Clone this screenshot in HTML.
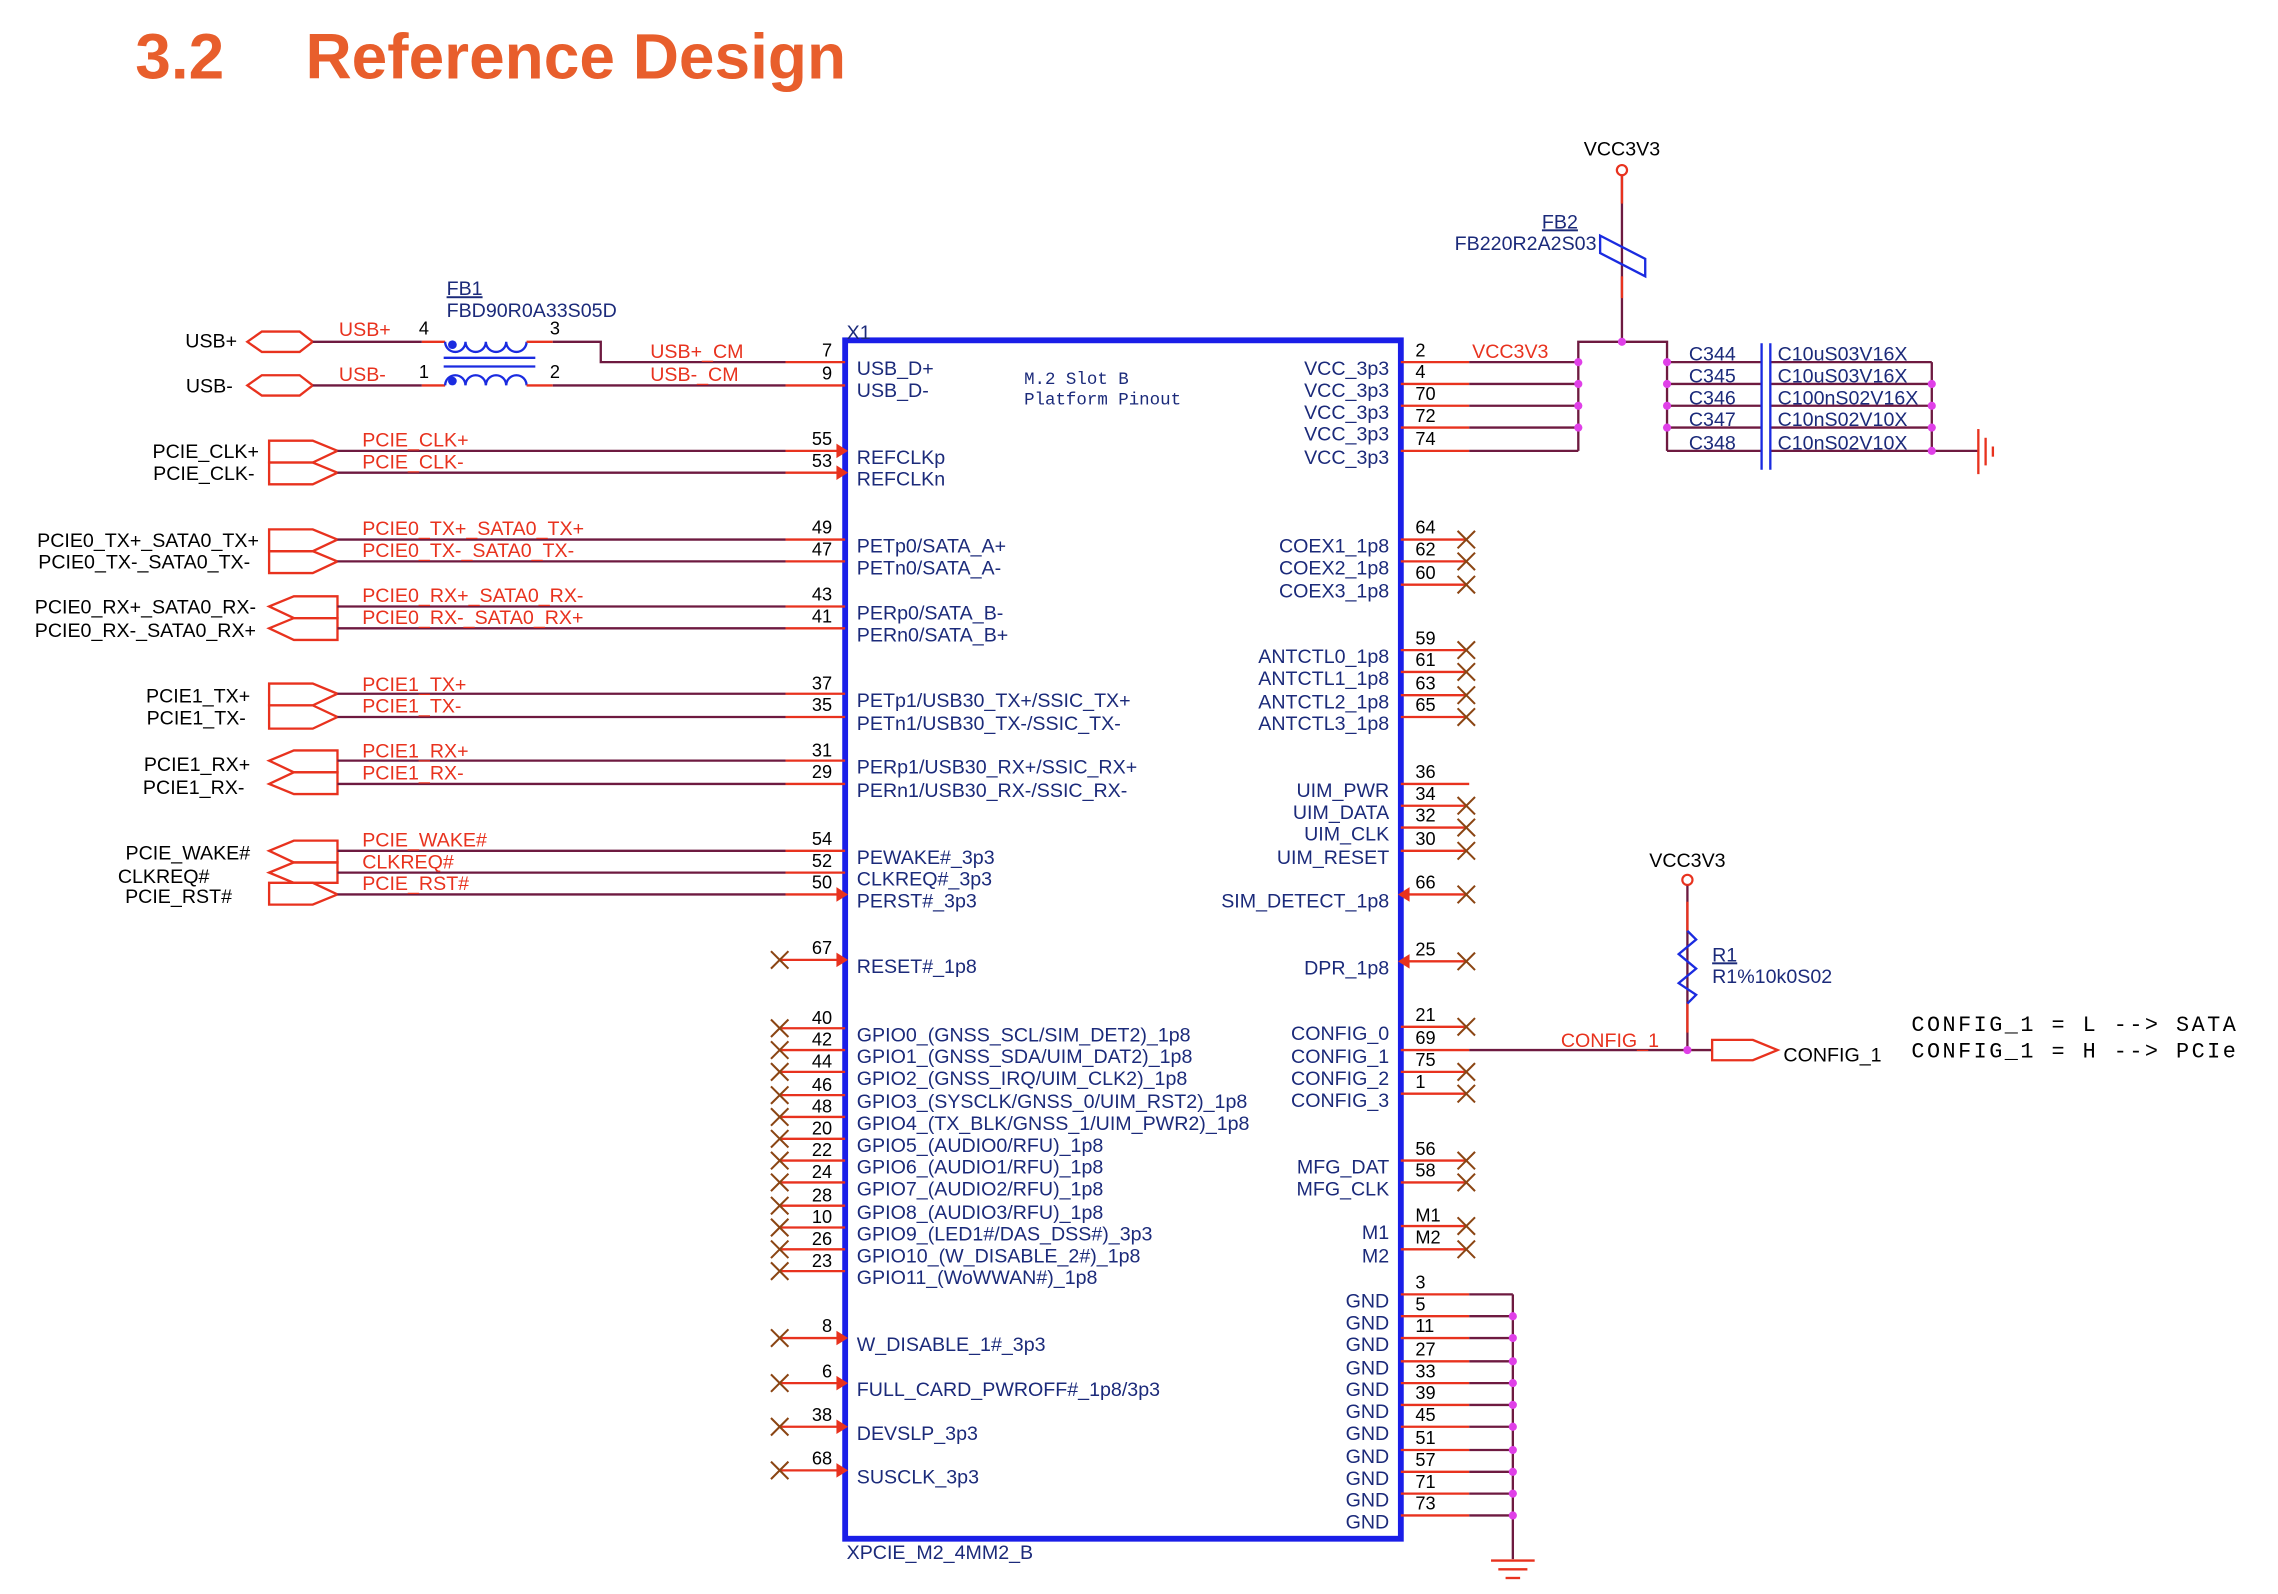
<!DOCTYPE html>
<html><head><meta charset="utf-8"><style>
html,body{margin:0;padding:0;background:#fff;}
svg{display:block;}
text{font-family:"Liberation Sans",sans-serif;}
.p{fill:#1b2a7a;font-size:13.5px;}
.pe{fill:#1b2a7a;font-size:13.5px;text-anchor:end;}
.n{fill:#000;font-size:12.5px;}
.ne{fill:#000;font-size:12.5px;text-anchor:end;}
.r{fill:#e8321e;font-size:13.5px;}
.k{fill:#000;font-size:13.5px;}
.ke{fill:#000;font-size:13.5px;text-anchor:end;}
.m{fill:#1b2a7a;font-size:12px;font-family:"Liberation Mono",monospace;}
.mk{fill:#000;font-size:15px;font-family:"Liberation Mono",monospace;}
.red{stroke:#e8321e;stroke-width:1.6;fill:none;}
.w{stroke:#6e1a40;stroke-width:1.6;fill:none;}
.x{stroke:#8b4513;stroke-width:1.4;fill:none;}
.port{stroke:#e8321e;stroke-width:1.6;fill:none;}
.dot{fill:#e040e8;}
.blue{stroke:#1a2be0;stroke-width:1.6;fill:none;}
</style></head><body>
<svg width="2278" height="1594" viewBox="0 0 1566 1096" preserveAspectRatio="none" xmlns="http://www.w3.org/2000/svg">
<!-- Title -->
<text x="93" y="54" style="font-size:44px;font-weight:bold;fill:#e85e2c;">3.2</text>
<text x="210" y="54" style="font-size:44px;font-weight:bold;fill:#e85e2c;">Reference Design</text>

<!-- Main box -->
<rect x="581" y="234" width="382" height="824" fill="none" stroke="#1a1ee8" stroke-width="4"/>
<text x="582" y="233" class="p">X1</text>
<text x="582" y="1072" class="p">XPCIE_M2_4MM2_B</text>
<text x="704" y="264" class="m">M.2 Slot B</text>
<text x="704" y="278" class="m">Platform Pinout</text>

<!-- USB ports & FB1 -->
<polygon class="port" points="170,235 180,228 206,228 215,235 206,242 180,242"/>
<polygon class="port" points="170,265 180,258 206,258 215,265 206,272 180,272"/>
<text x="163" y="239" class="ke">USB+</text>
<text x="160" y="270" class="ke">USB-</text>
<line class="w" x1="215" y1="235" x2="290" y2="235"/><line class="red" x1="290" y1="235" x2="306" y2="235"/>
<line class="w" x1="215" y1="265" x2="290" y2="265"/><line class="red" x1="290" y1="265" x2="306" y2="265"/>
<text x="233" y="231" class="r">USB+</text>
<text x="233" y="262" class="r">USB-</text>
<text x="288" y="230" class="n">4</text><text x="378" y="230" class="n">3</text>
<text x="288" y="260" class="n">1</text><text x="378" y="260" class="n">2</text>
<text x="307" y="203" class="p" text-decoration="underline">FB1</text>
<text x="307" y="218" class="p">FBD90R0A33S05D</text>
<path class="blue" d="M306,235 a7,7 0 0 0 14,0 a7,7 0 0 0 14,0 a7,7 0 0 0 14,0 a7,7 0 0 0 14,0"/>
<path class="blue" d="M306,265 a7,7 0 0 1 14,0 a7,7 0 0 1 14,0 a7,7 0 0 1 14,0 a7,7 0 0 1 14,0"/>
<circle cx="311" cy="237" r="3" fill="#1a2be0"/><circle cx="311" cy="262" r="3" fill="#1a2be0"/>
<line class="blue" x1="305" y1="246" x2="368" y2="246"/><line class="blue" x1="305" y1="252" x2="368" y2="252"/>
<line class="red" x1="362" y1="235" x2="380" y2="235"/><polyline class="w" points="380,235 413,235 413,249 540,249"/>
<line class="red" x1="362" y1="265" x2="380" y2="265"/><line class="w" x1="380" y1="265" x2="540" y2="265"/>
<line class="red" x1="540" y1="249" x2="581" y2="249"/><line class="red" x1="540" y1="265" x2="581" y2="265"/>
<text x="447" y="246" class="r">USB+_CM</text><text x="447" y="262" class="r">USB-_CM</text>
<text x="572" y="245" class="ne">7</text><text x="572" y="261" class="ne">9</text>
<text x="589" y="258" class="p">USB_D+</text><text x="589" y="273" class="p">USB_D-</text>

<!-- CLK pair (out) -->
<polygon class="port" points="185,303 215,303 232,310 215,318 185,318"/>
<polygon class="port" points="185,318 215,318 232,325 215,333 185,333"/>
<text x="178" y="315" class="ke">PCIE_CLK+</text><text x="175" y="330" class="ke">PCIE_CLK-</text>
<line class="w" x1="232" y1="310" x2="540" y2="310"/><line class="red" x1="540" y1="310" x2="581" y2="310"/>
<line class="w" x1="232" y1="325" x2="540" y2="325"/><line class="red" x1="540" y1="325" x2="581" y2="325"/>
<polygon fill="#e8321e" points="575,305 583,310 575,315"/><polygon fill="#e8321e" points="575,320 583,325 575,330"/>
<text x="249" y="307" class="r">PCIE_CLK+</text><text x="249" y="322" class="r">PCIE_CLK-</text>
<text x="572" y="306" class="ne">55</text><text x="572" y="321" class="ne">53</text>
<text x="589" y="319" class="p">REFCLKp</text><text x="589" y="334" class="p">REFCLKn</text>

<!-- PCIE0 TX (out) -->
<polygon class="port" points="185,364 215,364 232,371 215,379 185,379"/>
<polygon class="port" points="185,379 215,379 232,386 215,394 185,394"/>
<text x="178" y="376" class="ke">PCIE0_TX+_SATA0_TX+</text><text x="172" y="391" class="ke">PCIE0_TX-_SATA0_TX-</text>
<line class="w" x1="232" y1="371" x2="540" y2="371"/><line class="red" x1="540" y1="371" x2="581" y2="371"/>
<line class="w" x1="232" y1="386" x2="540" y2="386"/><line class="red" x1="540" y1="386" x2="581" y2="386"/>
<text x="249" y="368" class="r">PCIE0_TX+_SATA0_TX+</text><text x="249" y="383" class="r">PCIE0_TX-_SATA0_TX-</text>
<text x="572" y="367" class="ne">49</text><text x="572" y="382" class="ne">47</text>
<text x="589" y="380" class="p">PETp0/SATA_A+</text><text x="589" y="395" class="p">PETn0/SATA_A-</text>

<!-- PCIE0 RX (in) -->
<polygon class="port" points="185,417 202,410 232,410 232,425 202,425"/>
<polygon class="port" points="185,432 202,425 232,425 232,440 202,440"/>
<text x="176" y="422" class="ke">PCIE0_RX+_SATA0_RX-</text><text x="176" y="438" class="ke">PCIE0_RX-_SATA0_RX+</text>
<line class="w" x1="232" y1="417" x2="540" y2="417"/><line class="red" x1="540" y1="417" x2="581" y2="417"/>
<line class="w" x1="232" y1="432" x2="540" y2="432"/><line class="red" x1="540" y1="432" x2="581" y2="432"/>
<text x="249" y="414" class="r">PCIE0_RX+_SATA0_RX-</text><text x="249" y="429" class="r">PCIE0_RX-_SATA0_RX+</text>
<text x="572" y="413" class="ne">43</text><text x="572" y="428" class="ne">41</text>
<text x="589" y="426" class="p">PERp0/SATA_B-</text><text x="589" y="441" class="p">PERn0/SATA_B+</text>

<!-- PCIE1 TX (out) -->
<polygon class="port" points="185,470 215,470 232,477 215,485 185,485"/>
<polygon class="port" points="185,485 215,485 232,493 215,501 185,501"/>
<text x="172" y="483" class="ke">PCIE1_TX+</text><text x="169" y="498" class="ke">PCIE1_TX-</text>
<line class="w" x1="232" y1="477" x2="540" y2="477"/><line class="red" x1="540" y1="477" x2="581" y2="477"/>
<line class="w" x1="232" y1="493" x2="540" y2="493"/><line class="red" x1="540" y1="493" x2="581" y2="493"/>
<text x="249" y="475" class="r">PCIE1_TX+</text><text x="249" y="490" class="r">PCIE1_TX-</text>
<text x="572" y="474" class="ne">37</text><text x="572" y="489" class="ne">35</text>
<text x="589" y="486" class="p">PETp1/USB30_TX+/SSIC_TX+</text><text x="589" y="502" class="p">PETn1/USB30_TX-/SSIC_TX-</text>

<!-- PCIE1 RX (in) -->
<polygon class="port" points="185,523 202,516 232,516 232,531 202,531"/>
<polygon class="port" points="185,539 202,531 232,531 232,546 202,546"/>
<text x="172" y="530" class="ke">PCIE1_RX+</text><text x="168" y="546" class="ke">PCIE1_RX-</text>
<line class="w" x1="232" y1="523" x2="540" y2="523"/><line class="red" x1="540" y1="523" x2="581" y2="523"/>
<line class="w" x1="232" y1="539" x2="540" y2="539"/><line class="red" x1="540" y1="539" x2="581" y2="539"/>
<text x="249" y="521" class="r">PCIE1_RX+</text><text x="249" y="536" class="r">PCIE1_RX-</text>
<text x="572" y="520" class="ne">31</text><text x="572" y="535" class="ne">29</text>
<text x="589" y="532" class="p">PERp1/USB30_RX+/SSIC_RX+</text><text x="589" y="548" class="p">PERn1/USB30_RX-/SSIC_RX-</text>

<!-- WAKE/CLKREQ/RST -->
<polygon class="port" points="185,585 202,578 232,578 232,593 202,593"/>
<polygon class="port" points="185,600 202,593 232,593 232,607 202,607"/>
<polygon class="port" points="185,607 215,607 232,615 215,622 185,622"/>
<text x="172" y="591" class="ke">PCIE_WAKE#</text>
<text x="81" y="607" class="k">CLKREQ#</text>
<text x="86" y="621" class="k">PCIE_RST#</text>
<line class="w" x1="232" y1="585" x2="540" y2="585"/><line class="red" x1="540" y1="585" x2="581" y2="585"/>
<line class="w" x1="232" y1="600" x2="540" y2="600"/><line class="red" x1="540" y1="600" x2="581" y2="600"/>
<line class="w" x1="232" y1="615" x2="540" y2="615"/><line class="red" x1="540" y1="615" x2="581" y2="615"/>
<polygon fill="#e8321e" points="575,610 583,615 575,620"/>
<text x="249" y="582" class="r">PCIE_WAKE#</text><text x="249" y="597" class="r">CLKREQ#</text><text x="249" y="612" class="r">PCIE_RST#</text>
<text x="572" y="581" class="ne">54</text><text x="572" y="596" class="ne">52</text><text x="572" y="611" class="ne">50</text>
<text x="589" y="594" class="p">PEWAKE#_3p3</text><text x="589" y="609" class="p">CLKREQ#_3p3</text><text x="589" y="624" class="p">PERST#_3p3</text>

<!-- RESET -->
<line class="red" x1="536" y1="660" x2="581" y2="660"/><path class="x" d="M530,654 l12,12 M542,654 l-12,12"/>
<polygon fill="#e8321e" points="575,655 583,660 575,665"/>
<text x="572" y="656" class="ne">67</text><text x="589" y="669" class="p">RESET#_1p8</text>

<!-- GPIO -->
<g>
<line class="red" x1="536" y1="707" x2="581" y2="707"/><path class="x" d="M530,701 l12,12 M542,701 l-12,12"/><text x="572" y="704" class="ne">40</text><text x="589" y="716" class="p">GPIO0_(GNSS_SCL/SIM_DET2)_1p8</text>
<line class="red" x1="536" y1="722" x2="581" y2="722"/><path class="x" d="M530,716 l12,12 M542,716 l-12,12"/><text x="572" y="719" class="ne">42</text><text x="589" y="731" class="p">GPIO1_(GNSS_SDA/UIM_DAT2)_1p8</text>
<line class="red" x1="536" y1="737" x2="581" y2="737"/><path class="x" d="M530,731 l12,12 M542,731 l-12,12"/><text x="572" y="734" class="ne">44</text><text x="589" y="746" class="p">GPIO2_(GNSS_IRQ/UIM_CLK2)_1p8</text>
<line class="red" x1="536" y1="753" x2="581" y2="753"/><path class="x" d="M530,747 l12,12 M542,747 l-12,12"/><text x="572" y="750" class="ne">46</text><text x="589" y="762" class="p">GPIO3_(SYSCLK/GNSS_0/UIM_RST2)_1p8</text>
<line class="red" x1="536" y1="768" x2="581" y2="768"/><path class="x" d="M530,762 l12,12 M542,762 l-12,12"/><text x="572" y="765" class="ne">48</text><text x="589" y="777" class="p">GPIO4_(TX_BLK/GNSS_1/UIM_PWR2)_1p8</text>
<line class="red" x1="536" y1="783" x2="581" y2="783"/><path class="x" d="M530,777 l12,12 M542,777 l-12,12"/><text x="572" y="780" class="ne">20</text><text x="589" y="792" class="p">GPIO5_(AUDIO0/RFU)_1p8</text>
<line class="red" x1="536" y1="798" x2="581" y2="798"/><path class="x" d="M530,792 l12,12 M542,792 l-12,12"/><text x="572" y="795" class="ne">22</text><text x="589" y="807" class="p">GPIO6_(AUDIO1/RFU)_1p8</text>
<line class="red" x1="536" y1="813" x2="581" y2="813"/><path class="x" d="M530,807 l12,12 M542,807 l-12,12"/><text x="572" y="810" class="ne">24</text><text x="589" y="822" class="p">GPIO7_(AUDIO2/RFU)_1p8</text>
<line class="red" x1="536" y1="829" x2="581" y2="829"/><path class="x" d="M530,823 l12,12 M542,823 l-12,12"/><text x="572" y="826" class="ne">28</text><text x="589" y="838" class="p">GPIO8_(AUDIO3/RFU)_1p8</text>
<line class="red" x1="536" y1="844" x2="581" y2="844"/><path class="x" d="M530,838 l12,12 M542,838 l-12,12"/><text x="572" y="841" class="ne">10</text><text x="589" y="853" class="p">GPIO9_(LED1#/DAS_DSS#)_3p3</text>
<line class="red" x1="536" y1="859" x2="581" y2="859"/><path class="x" d="M530,853 l12,12 M542,853 l-12,12"/><text x="572" y="856" class="ne">26</text><text x="589" y="868" class="p">GPIO10_(W_DISABLE_2#)_1p8</text>
<line class="red" x1="536" y1="874" x2="581" y2="874"/><path class="x" d="M530,868 l12,12 M542,868 l-12,12"/><text x="572" y="871" class="ne">23</text><text x="589" y="883" class="p">GPIO11_(WoWWAN#)_1p8</text>
</g>

<!-- bottom left pins -->
<line class="red" x1="536" y1="920" x2="581" y2="920"/><path class="x" d="M530,914 l12,12 M542,914 l-12,12"/><polygon fill="#e8321e" points="575,915 583,920 575,925"/><text x="572" y="916" class="ne">8</text><text x="589" y="929" class="p">W_DISABLE_1#_3p3</text>
<line class="red" x1="536" y1="951" x2="581" y2="951"/><path class="x" d="M530,945 l12,12 M542,945 l-12,12"/><polygon fill="#e8321e" points="575,946 583,951 575,956"/><text x="572" y="947" class="ne">6</text><text x="589" y="960" class="p">FULL_CARD_PWROFF#_1p8/3p3</text>
<line class="red" x1="536" y1="981" x2="581" y2="981"/><path class="x" d="M530,975 l12,12 M542,975 l-12,12"/><polygon fill="#e8321e" points="575,976 583,981 575,986"/><text x="572" y="977" class="ne">38</text><text x="589" y="990" class="p">DEVSLP_3p3</text>
<line class="red" x1="536" y1="1011" x2="581" y2="1011"/><path class="x" d="M530,1005 l12,12 M542,1005 l-12,12"/><polygon fill="#e8321e" points="575,1006 583,1011 575,1016"/><text x="572" y="1007" class="ne">68</text><text x="589" y="1020" class="p">SUSCLK_3p3</text>

<!-- VCC right side -->
<text x="1115" y="107" class="k" text-anchor="middle">VCC3V3</text>
<circle cx="1115" cy="117" r="3.5" fill="none" stroke="#e8321e" stroke-width="1.5"/>
<line class="w" x1="1115" y1="121" x2="1115" y2="235"/>
<line class="red" x1="1115" y1="121" x2="1115" y2="140"/><line class="red" x1="1115" y1="190" x2="1115" y2="205"/>
<polygon class="blue" points="1100,162 1131,178 1131,190 1100,174"/>
<text x="1060" y="157" class="p" text-decoration="underline">FB2</text>
<text x="1000" y="172" class="p">FB220R2A2S03</text>
<polyline class="w" points="1085,310 1085,235 1146,235 1146,310"/>
<circle class="dot" cx="1115" cy="235" r="2.8"/>
<line class="red" x1="963" y1="249" x2="1010" y2="249"/><line class="w" x1="1010" y1="249" x2="1085" y2="249"/>
<line class="red" x1="963" y1="264" x2="1010" y2="264"/><line class="w" x1="1010" y1="264" x2="1085" y2="264"/>
<line class="red" x1="963" y1="279" x2="1010" y2="279"/><line class="w" x1="1010" y1="279" x2="1085" y2="279"/>
<line class="red" x1="963" y1="294" x2="1010" y2="294"/><line class="w" x1="1010" y1="294" x2="1085" y2="294"/>
<line class="red" x1="963" y1="310" x2="1010" y2="310"/><line class="w" x1="1010" y1="310" x2="1085" y2="310"/>
<circle class="dot" cx="1085" cy="249" r="2.8"/><circle class="dot" cx="1085" cy="264" r="2.8"/><circle class="dot" cx="1085" cy="279" r="2.8"/><circle class="dot" cx="1085" cy="294" r="2.8"/>
<text x="1012" y="246" class="r">VCC3V3</text>
<text x="973" y="245" class="n">2</text><text x="973" y="260" class="n">4</text><text x="973" y="275" class="n">70</text><text x="973" y="290" class="n">72</text><text x="973" y="306" class="n">74</text>
<text x="955" y="258" class="pe">VCC_3p3</text><text x="955" y="273" class="pe">VCC_3p3</text><text x="955" y="288" class="pe">VCC_3p3</text><text x="955" y="303" class="pe">VCC_3p3</text><text x="955" y="319" class="pe">VCC_3p3</text>
<!-- caps -->
<g>
<line class="w" x1="1146" y1="249" x2="1211" y2="249"/><line class="w" x1="1217" y1="249" x2="1328" y2="249"/>
<line class="w" x1="1146" y1="264" x2="1211" y2="264"/><line class="w" x1="1217" y1="264" x2="1328" y2="264"/>
<line class="w" x1="1146" y1="279" x2="1211" y2="279"/><line class="w" x1="1217" y1="279" x2="1328" y2="279"/>
<line class="w" x1="1146" y1="294" x2="1211" y2="294"/><line class="w" x1="1217" y1="294" x2="1328" y2="294"/>
<line class="w" x1="1146" y1="310" x2="1211" y2="310"/><line class="w" x1="1217" y1="310" x2="1360" y2="310"/>
<line class="w" x1="1328" y1="249" x2="1328" y2="310"/>
<line class="blue" x1="1211" y1="236" x2="1211" y2="323"/><line class="blue" x1="1217" y1="236" x2="1217" y2="323"/>
<circle class="dot" cx="1146" cy="249" r="2.8"/><circle class="dot" cx="1146" cy="264" r="2.8"/><circle class="dot" cx="1146" cy="279" r="2.8"/><circle class="dot" cx="1146" cy="294" r="2.8"/>
<circle class="dot" cx="1328" cy="264" r="2.8"/><circle class="dot" cx="1328" cy="279" r="2.8"/><circle class="dot" cx="1328" cy="294" r="2.8"/><circle class="dot" cx="1328" cy="310" r="2.8"/>
<text x="1161" y="248" class="p">C344</text><text x="1161" y="263" class="p">C345</text><text x="1161" y="278" class="p">C346</text><text x="1161" y="293" class="p">C347</text><text x="1161" y="309" class="p">C348</text>
<text x="1222" y="248" class="p">C10uS03V16X</text><text x="1222" y="263" class="p">C10uS03V16X</text><text x="1222" y="278" class="p">C100nS02V16X</text><text x="1222" y="293" class="p">C10nS02V10X</text><text x="1222" y="309" class="p">C10nS02V10X</text>
<line class="red" x1="1360" y1="295" x2="1360" y2="326"/><line class="red" x1="1365" y1="301" x2="1365" y2="320"/><line class="red" x1="1370" y1="307" x2="1370" y2="314"/>
</g>

<!-- COEX -->
<line class="red" x1="963" y1="371" x2="1008" y2="371"/><path class="x" d="M1002,365 l12,12 M1014,365 l-12,12"/>
<line class="red" x1="963" y1="386" x2="1008" y2="386"/><path class="x" d="M1002,380 l12,12 M1014,380 l-12,12"/>
<line class="red" x1="963" y1="402" x2="1008" y2="402"/><path class="x" d="M1002,396 l12,12 M1014,396 l-12,12"/>
<text x="973" y="367" class="n">64</text><text x="973" y="382" class="n">62</text><text x="973" y="398" class="n">60</text>
<text x="955" y="380" class="pe">COEX1_1p8</text><text x="955" y="395" class="pe">COEX2_1p8</text><text x="955" y="411" class="pe">COEX3_1p8</text>

<!-- ANTCTL -->
<line class="red" x1="963" y1="447" x2="1008" y2="447"/><path class="x" d="M1002,441 l12,12 M1014,441 l-12,12"/>
<line class="red" x1="963" y1="462" x2="1008" y2="462"/><path class="x" d="M1002,456 l12,12 M1014,456 l-12,12"/>
<line class="red" x1="963" y1="478" x2="1008" y2="478"/><path class="x" d="M1002,472 l12,12 M1014,472 l-12,12"/>
<line class="red" x1="963" y1="493" x2="1008" y2="493"/><path class="x" d="M1002,487 l12,12 M1014,487 l-12,12"/>
<text x="973" y="443" class="n">59</text><text x="973" y="458" class="n">61</text><text x="973" y="474" class="n">63</text><text x="973" y="489" class="n">65</text>
<text x="955" y="456" class="pe">ANTCTL0_1p8</text><text x="955" y="471" class="pe">ANTCTL1_1p8</text><text x="955" y="487" class="pe">ANTCTL2_1p8</text><text x="955" y="502" class="pe">ANTCTL3_1p8</text>

<!-- UIM -->
<line class="red" x1="963" y1="539" x2="1010" y2="539"/>
<line class="red" x1="963" y1="554" x2="1008" y2="554"/><path class="x" d="M1002,548 l12,12 M1014,548 l-12,12"/>
<line class="red" x1="963" y1="569" x2="1008" y2="569"/><path class="x" d="M1002,563 l12,12 M1014,563 l-12,12"/>
<line class="red" x1="963" y1="585" x2="1008" y2="585"/><path class="x" d="M1002,579 l12,12 M1014,579 l-12,12"/>
<text x="973" y="535" class="n">36</text><text x="973" y="550" class="n">34</text><text x="973" y="565" class="n">32</text><text x="973" y="581" class="n">30</text>
<text x="955" y="548" class="pe">UIM_PWR</text><text x="955" y="563" class="pe">UIM_DATA</text><text x="955" y="578" class="pe">UIM_CLK</text><text x="955" y="594" class="pe">UIM_RESET</text>

<!-- SIM / DPR -->
<line class="red" x1="963" y1="615" x2="1008" y2="615"/><path class="x" d="M1002,609 l12,12 M1014,609 l-12,12"/><polygon fill="#e8321e" points="969,610 961,615 969,620"/>
<text x="973" y="611" class="n">66</text><text x="955" y="624" class="pe">SIM_DETECT_1p8</text>
<line class="red" x1="963" y1="661" x2="1008" y2="661"/><path class="x" d="M1002,655 l12,12 M1014,655 l-12,12"/><polygon fill="#e8321e" points="969,656 961,661 969,666"/>
<text x="973" y="657" class="n">25</text><text x="955" y="670" class="pe">DPR_1p8</text>

<!-- CONFIG -->
<line class="red" x1="963" y1="706" x2="1008" y2="706"/><path class="x" d="M1002,700 l12,12 M1014,700 l-12,12"/>
<line class="red" x1="963" y1="722" x2="1010" y2="722"/><line class="w" x1="1010" y1="722" x2="1177" y2="722"/>
<line class="red" x1="963" y1="737" x2="1008" y2="737"/><path class="x" d="M1002,731 l12,12 M1014,731 l-12,12"/>
<line class="red" x1="963" y1="752" x2="1008" y2="752"/><path class="x" d="M1002,746 l12,12 M1014,746 l-12,12"/>
<text x="973" y="702" class="n">21</text><text x="973" y="718" class="n">69</text><text x="973" y="733" class="n">75</text><text x="973" y="748" class="n">1</text>
<text x="955" y="715" class="pe">CONFIG_0</text><text x="955" y="731" class="pe">CONFIG_1</text><text x="955" y="746" class="pe">CONFIG_2</text><text x="955" y="761" class="pe">CONFIG_3</text>
<text x="1073" y="720" class="r">CONFIG_1</text>
<text x="1160" y="596" class="k" text-anchor="middle">VCC3V3</text>
<circle cx="1160" cy="605" r="3.5" fill="none" stroke="#e8321e" stroke-width="1.5"/>
<line class="w" x1="1160" y1="609" x2="1160" y2="722"/>
<line class="red" x1="1160" y1="620" x2="1160" y2="640"/><line class="red" x1="1160" y1="690" x2="1160" y2="710"/>
<polyline class="blue" points="1160,640 1166,646 1154,656 1166,666 1154,676 1166,684 1160,690"/>
<circle class="dot" cx="1160" cy="722" r="2.8"/>
<text x="1177" y="661" class="p" text-decoration="underline">R1</text>
<text x="1177" y="676" class="p">R1%10k0S02</text>
<polygon class="port" points="1177,715 1205,715 1222,722 1205,729 1177,729"/>
<text x="1226" y="730" class="k">CONFIG_1</text>
<text x="1314" y="709" class="mk" textLength="223" xml:space="preserve">CONFIG_1 = L --&gt; SATA</text>
<text x="1314" y="727" class="mk" textLength="223" xml:space="preserve">CONFIG_1 = H --&gt; PCIe</text>

<!-- MFG -->
<line class="red" x1="963" y1="798" x2="1008" y2="798"/><path class="x" d="M1002,792 l12,12 M1014,792 l-12,12"/>
<line class="red" x1="963" y1="813" x2="1008" y2="813"/><path class="x" d="M1002,807 l12,12 M1014,807 l-12,12"/>
<text x="973" y="794" class="n">56</text><text x="973" y="809" class="n">58</text>
<text x="955" y="807" class="pe">MFG_DAT</text><text x="955" y="822" class="pe">MFG_CLK</text>
<!-- M1 M2 -->
<line class="red" x1="963" y1="843" x2="1008" y2="843"/><path class="x" d="M1002,837 l12,12 M1014,837 l-12,12"/>
<line class="red" x1="963" y1="859" x2="1008" y2="859"/><path class="x" d="M1002,853 l12,12 M1014,853 l-12,12"/>
<text x="973" y="840" class="n">M1</text><text x="973" y="855" class="n">M2</text>
<text x="955" y="852" class="pe">M1</text><text x="955" y="868" class="pe">M2</text>

<!-- GND -->
<g>
<line class="w" x1="1040" y1="890" x2="1040" y2="1072"/>
<line class="red" x1="963" y1="890" x2="1010" y2="890"/><line class="w" x1="1010" y1="890" x2="1040" y2="890"/>
<line class="red" x1="963" y1="905" x2="1010" y2="905"/><line class="w" x1="1010" y1="905" x2="1040" y2="905"/>
<line class="red" x1="963" y1="920" x2="1010" y2="920"/><line class="w" x1="1010" y1="920" x2="1040" y2="920"/>
<line class="red" x1="963" y1="936" x2="1010" y2="936"/><line class="w" x1="1010" y1="936" x2="1040" y2="936"/>
<line class="red" x1="963" y1="951" x2="1010" y2="951"/><line class="w" x1="1010" y1="951" x2="1040" y2="951"/>
<line class="red" x1="963" y1="966" x2="1010" y2="966"/><line class="w" x1="1010" y1="966" x2="1040" y2="966"/>
<line class="red" x1="963" y1="981" x2="1010" y2="981"/><line class="w" x1="1010" y1="981" x2="1040" y2="981"/>
<line class="red" x1="963" y1="997" x2="1010" y2="997"/><line class="w" x1="1010" y1="997" x2="1040" y2="997"/>
<line class="red" x1="963" y1="1012" x2="1010" y2="1012"/><line class="w" x1="1010" y1="1012" x2="1040" y2="1012"/>
<line class="red" x1="963" y1="1027" x2="1010" y2="1027"/><line class="w" x1="1010" y1="1027" x2="1040" y2="1027"/>
<line class="red" x1="963" y1="1042" x2="1010" y2="1042"/><line class="w" x1="1010" y1="1042" x2="1040" y2="1042"/>
<circle class="dot" cx="1040" cy="905" r="2.8"/><circle class="dot" cx="1040" cy="920" r="2.8"/><circle class="dot" cx="1040" cy="936" r="2.8"/><circle class="dot" cx="1040" cy="951" r="2.8"/><circle class="dot" cx="1040" cy="966" r="2.8"/><circle class="dot" cx="1040" cy="981" r="2.8"/><circle class="dot" cx="1040" cy="997" r="2.8"/><circle class="dot" cx="1040" cy="1012" r="2.8"/><circle class="dot" cx="1040" cy="1027" r="2.8"/><circle class="dot" cx="1040" cy="1042" r="2.8"/>
<text x="973" y="886" class="n">3</text><text x="973" y="901" class="n">5</text><text x="973" y="916" class="n">11</text><text x="973" y="932" class="n">27</text><text x="973" y="947" class="n">33</text><text x="973" y="962" class="n">39</text><text x="973" y="977" class="n">45</text><text x="973" y="993" class="n">51</text><text x="973" y="1008" class="n">57</text><text x="973" y="1023" class="n">71</text><text x="973" y="1038" class="n">73</text>
<text x="955" y="899" class="pe">GND</text><text x="955" y="914" class="pe">GND</text><text x="955" y="929" class="pe">GND</text><text x="955" y="945" class="pe">GND</text><text x="955" y="960" class="pe">GND</text><text x="955" y="975" class="pe">GND</text><text x="955" y="990" class="pe">GND</text><text x="955" y="1006" class="pe">GND</text><text x="955" y="1021" class="pe">GND</text><text x="955" y="1036" class="pe">GND</text><text x="955" y="1051" class="pe">GND</text>
<line class="red" x1="1025" y1="1073" x2="1055" y2="1073"/><line class="red" x1="1030" y1="1079" x2="1050" y2="1079"/><line class="red" x1="1035" y1="1085" x2="1045" y2="1085"/>
</g>
</svg>
</body></html>
